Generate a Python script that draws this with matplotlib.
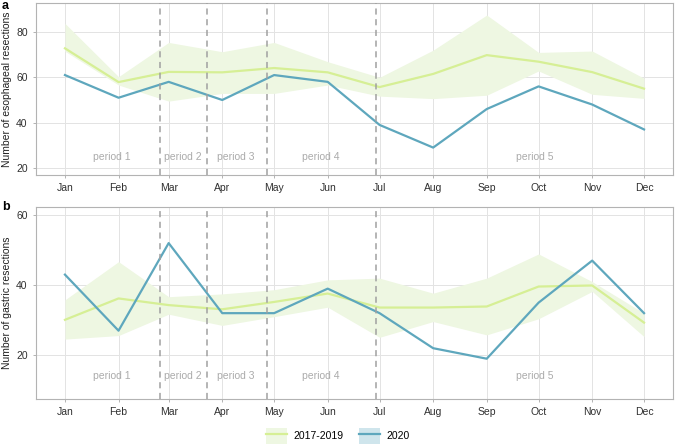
import numpy as np
import pandas as pd
import matplotlib
matplotlib.use("Agg")
import matplotlib.pyplot as plt
from matplotlib.patches import Patch
from matplotlib.lines import Line2D

plt.rcParams.update({
    "font.family": ["Liberation Sans", "DejaVu Sans"],
    "font.size": 7.5,
})

months = pd.date_range("2020-01-01", periods=12, freq="MS")
month_labels = ["Jan", "Feb", "Mar", "Apr", "May", "Jun",
                "Jul", "Aug", "Sep", "Oct", "Nov", "Dec"]

# esophageal resections
eso_mean = [72.8, 57.9, 62.4, 62.2, 64.1, 62.2, 55.7, 61.5, 69.8, 66.9, 62.3, 55.0]
eso_upper = [83.8, 60.3, 75.4, 71.3, 75.4, 66.9, 60.0, 72.0, 87.5, 71.0, 71.6, 59.6]
eso_lower = [71.5, 56.6, 49.5, 52.9, 52.9, 56.6, 51.7, 50.6, 52.1, 62.8, 52.5, 50.7]
eso_2020 = [61, 51, 58, 50, 61, 58, 39, 29, 46, 56, 48, 37]

# gastric resections
gas_mean = [30.1, 36.2, 34.3, 33.1, 35.2, 37.6, 33.6, 33.6, 33.9, 39.6, 39.9, 29.3]
gas_upper = [35.8, 46.7, 36.7, 37.5, 38.7, 41.5, 42.0, 37.7, 42.0, 48.9, 41.0, 32.0]
gas_lower = [24.6, 25.6, 31.7, 28.5, 31.0, 33.7, 25.1, 29.6, 25.8, 30.4, 38.2, 25.3]
gas_2020 = [43, 27, 52, 32, 32, 39, 32, 22, 19, 35, 47, 32]

period_breaks = pd.to_datetime(["2020-02-25", "2020-03-23", "2020-04-27", "2020-06-29"])
period_names = ["period 1", "period 2", "period 3", "period 4", "period 5"]
period_mid = pd.to_datetime(["2020-01-28", "2020-03-09", "2020-04-09", "2020-05-28", "2020-09-29"])

c_ref = "#d6ef95"
c_ribbon = "#eef7e2"
c_2020 = "#5ea7bd"
c_grid = "#e3e3e3"
c_border = "#b3b3b3"

fig = plt.figure(figsize=(6.76, 4.48), dpi=100)
ax_a = fig.add_axes([36 / 676, 1 - 175 / 448, 637 / 676, 172 / 448])
ax_b = fig.add_axes([36 / 676, 1 - 399 / 448, 637 / 676, 192 / 448])

panels = [
    (ax_a, eso_mean, eso_upper, eso_lower, eso_2020, "Number of esophageal resections",
     (16.9, 92.8), [20, 40, 60, 80], 25, "a", 0),
    (ax_b, gas_mean, gas_upper, gas_lower, gas_2020, "Number of gastric resections",
     (7.5, 62.3), [20, 40, 60], 14, "b", 201),
]

for ax, mean, upper, lower, y2020, ylabel, ylim, yticks, label_y, tag, tag_top in panels:
    ax.fill_between(months, lower, upper, color=c_ribbon, lw=0, zorder=1)
    ax.plot(months, mean, color=c_ref, lw=1.6, zorder=3)
    ax.plot(months, y2020, color=c_2020, lw=1.6, zorder=4)
    for b in period_breaks:
        ax.axvline(b, color="#a0a0a0", lw=1.1, ls=(0, (4, 3)), zorder=5)
    for name, x in zip(period_names, period_mid):
        ax.text(x, label_y, name, color="#ababab", ha="center", va="center", fontsize=7.5)

    span = months[-1] - months[0]
    ax.set_xlim(months[0] - span * 0.05, months[-1] + span * 0.05)
    ax.set_ylim(*ylim)
    ax.set_xticks(months)
    ax.set_xticklabels(month_labels)
    ax.set_yticks(yticks)
    ax.grid(True, color=c_grid, lw=0.7, zorder=0)
    ax.set_axisbelow(True)
    for s in ax.spines.values():
        s.set_color(c_border)
        s.set_linewidth(0.8)
    ax.tick_params(colors=c_border, labelcolor="#303030", length=2.5, width=0.7, labelsize=7.5)
    ax.set_ylabel(ylabel, fontsize=7.5, color="#202020", labelpad=3)
    fig.text(2 / 676, 1 - tag_top / 448, tag, fontsize=9, fontweight="bold",
             ha="left", va="top")

handles = [
    (Patch(facecolor=c_ribbon, edgecolor="none"), Line2D([], [], color=c_ref, lw=1.6)),
    (Patch(facecolor="#cfe5ec", edgecolor="none"), Line2D([], [], color=c_2020, lw=1.6)),
]
fig.legend(handles, ["2017-2019", "2020"], loc="center", bbox_to_anchor=(0.5, 1 - 436 / 448),
           ncol=2, frameon=False, fontsize=7.5, handlelength=2.0, handleheight=2.0,
           columnspacing=1.5, handletextpad=0.6)

fig.savefig("out.png", dpi=100, facecolor="white")
